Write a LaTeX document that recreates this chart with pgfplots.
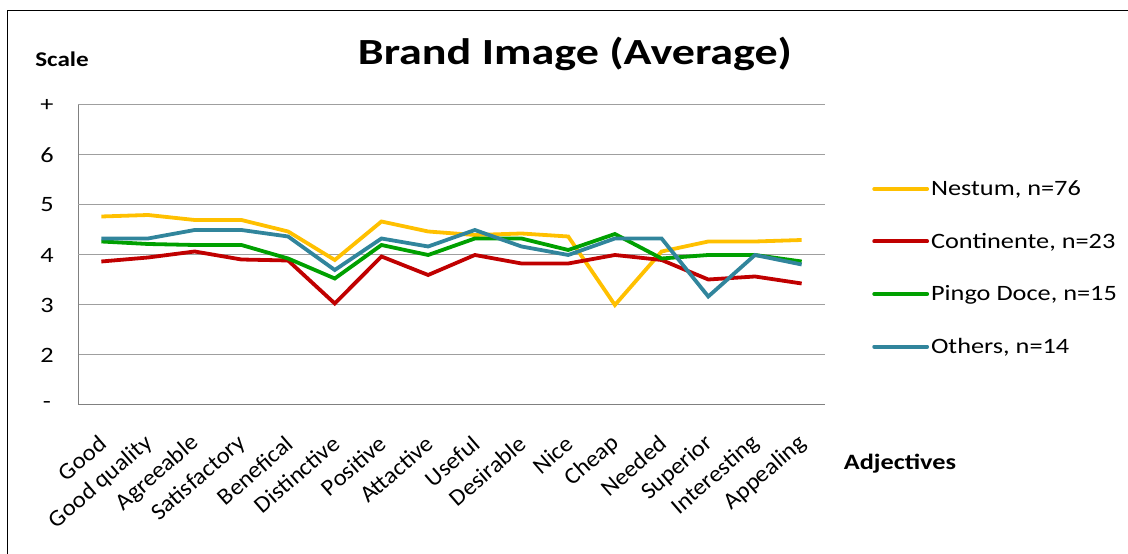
\documentclass[border=0pt]{standalone}
\usepackage{fontspec}
\setmainfont[FakeStretch=1.2]{Carlito}
\newfontfamily\titlefont[FakeStretch=1.25]{Carlito}
\newfontfamily\tickfont[FakeStretch=1.05]{Carlito}
\usepackage{pgfplots}
\pgfplotsset{compat=1.18}
\definecolor{cNes}{HTML}{FFC000}
\definecolor{cCon}{HTML}{C00000}
\definecolor{cPin}{HTML}{00A000}
\definecolor{cOth}{HTML}{31859C}
\begin{document}
\begin{tikzpicture}[x=1bp,y=1bp]
\useasboundingbox (0,0) rectangle (1128,554);
\draw[line width=1.5bp] (7.5,0) -- (7.5,543.5) -- (1128,543.5);
\node[anchor=base, font=\titlefont\fontsize{37}{40}\selectfont\bfseries] at (575,489) {Brand Image (Average)};
\node[anchor=base, font=\fontsize{21}{25}\selectfont\bfseries] at (62,487) {Scale};
\node[anchor=base, font=\fontsize{22}{26}\selectfont\bfseries] at (900,84) {Adjectives};
\begin{axis}[
  at={(78bp,149bp)}, anchor=south west,
  scale only axis, width=747bp, height=300bp,
  xmin=-0.5, xmax=15.5, ymin=1, ymax=7,
  xtick={0,...,15},
  xticklabels={Good,Good quality,Agreeable,Satisfactory,Benefical,Distinctive,Positive,Attactive,Useful,Desirable,Nice,Cheap,Needed,Superior,Interesting,Appealing},
  ytick={1,...,7},
  yticklabels={-,2,3,4,5,6,+},
  extra y ticks={4,5}, extra y tick labels={},
  extra y tick style={grid style={gray!55!black, line width=1.3bp}},
  axis x line*=bottom, axis y line*=left,
  x axis line style={-, gray, line width=1bp},
  y axis line style={-, gray, line width=1bp},
  major tick length=0pt,
  ymajorgrids, major grid style={gray!75, line width=1bp},
  yticklabel style={font=\fontsize{22}{26}\selectfont, anchor=center, xshift=-31bp},
  xticklabel style={font=\tickfont\fontsize{23.5}{26}\selectfont, xshift=4bp, yshift=-33bp, rotate=41, anchor=east},
  legend style={at={(1.063,0.457)}, anchor=west, draw=none, fill=none,
    font=\fontsize{22}{26}\selectfont, row sep=32bp, inner sep=0pt,
    nodes={inner sep=2bp}},
  legend cell align=left,
  legend image code/.code={\draw[#1, line cap=round] (0bp,0bp) -- (53bp,0bp);},
  every axis plot/.append style={line width=3.8bp},
]
\addplot[cNes] coordinates {(0,4.77)(1,4.80)(2,4.70)(3,4.70)(4,4.47)(5,3.90)(6,4.67)(7,4.47)(8,4.40)(9,4.43)(10,4.37)(11,3.00)(12,4.07)(13,4.27)(14,4.27)(15,4.30)};
\addlegendentry{Nestum, n=76}
\addplot[cCon] coordinates {(0,3.87)(1,3.95)(2,4.07)(3,3.91)(4,3.89)(5,3.03)(6,3.97)(7,3.60)(8,4.00)(9,3.83)(10,3.83)(11,4.00)(12,3.90)(13,3.51)(14,3.57)(15,3.43)};
\addlegendentry{Continente, n=23}
\addplot[cPin] coordinates {(0,4.27)(1,4.22)(2,4.20)(3,4.20)(4,3.93)(5,3.53)(6,4.20)(7,4.00)(8,4.33)(9,4.33)(10,4.10)(11,4.42)(12,3.93)(13,4.00)(14,4.00)(15,3.87)};
\addlegendentry{Pingo Doce, n=15}
\addplot[cOth] coordinates {(0,4.33)(1,4.33)(2,4.50)(3,4.50)(4,4.37)(5,3.70)(6,4.33)(7,4.17)(8,4.50)(9,4.17)(10,4.00)(11,4.33)(12,4.33)(13,3.17)(14,4.00)(15,3.81)};
\addlegendentry{Others, n=14}
\end{axis}
\end{tikzpicture}
\end{document}
